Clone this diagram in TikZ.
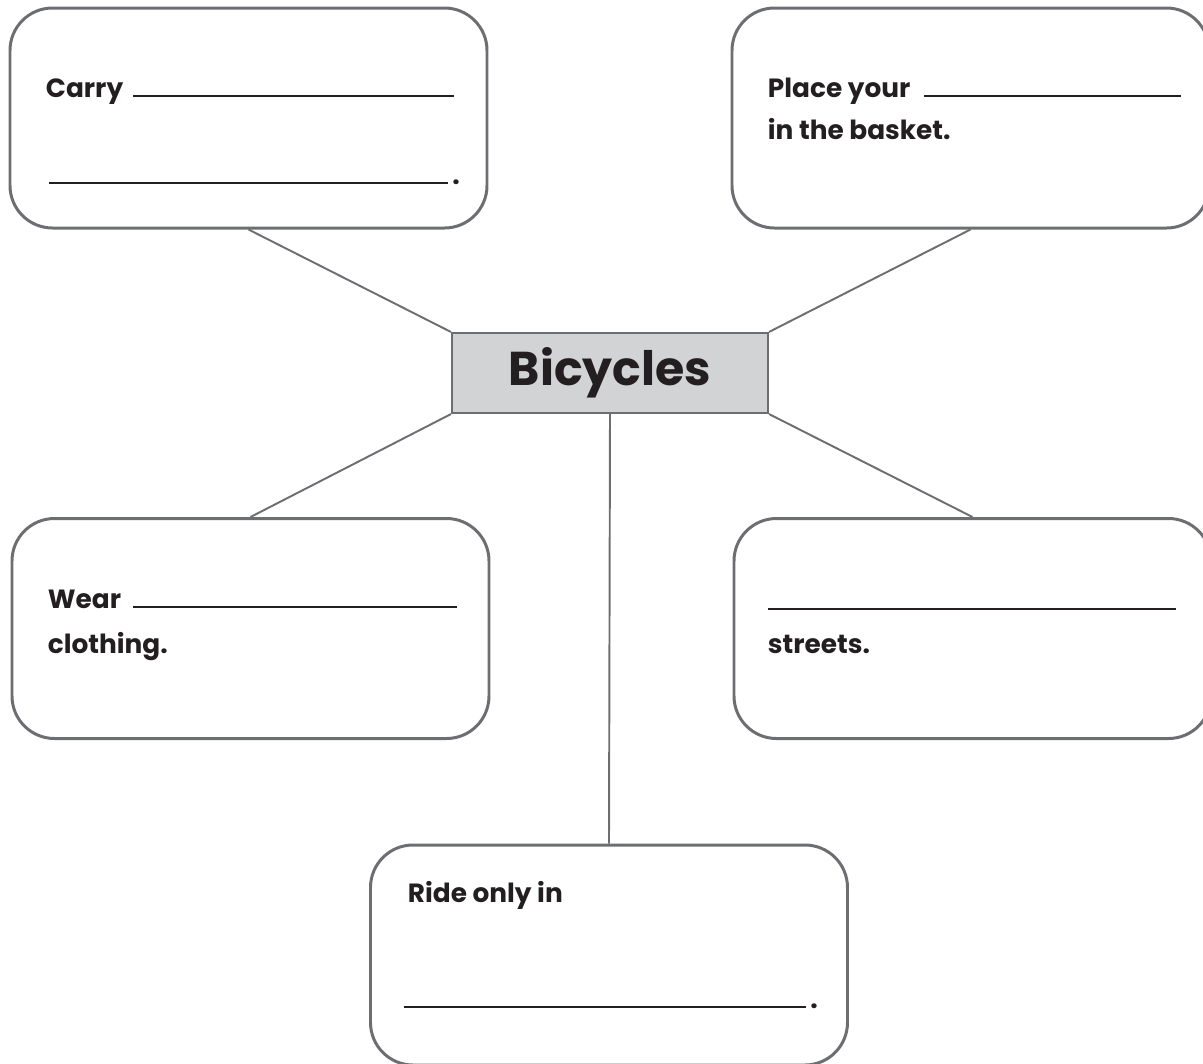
\documentclass[tikz,border=0pt]{standalone}
\usepackage{fontspec}
\setmainfont{Poppins}
\usetikzlibrary{positioning}

\definecolor{boxgray}{RGB}{109,110,113}
\definecolor{titlefill}{RGB}{209,211,212}
\definecolor{inkblack}{RGB}{35,31,32}

\begin{document}
\begin{tikzpicture}[line width=1.1pt, font=\fontsize{15}{19}\selectfont\bfseries]
\tikzset{
  bubble/.style={draw=boxgray, line width=1.7pt, rounded corners=0.85cm, minimum width=9.54cm, minimum height=4.4cm, inner sep=0pt},
  titlebox/.style={draw=boxgray, fill=titlefill, line width=1.2pt, minimum width=6.32cm, minimum height=1.6cm, inner sep=0pt, font=\fontsize{27}{32}\selectfont\bfseries, text=inkblack},
  fillin/.style={anchor=base west, inner sep=0pt, text=inkblack},
  spoke/.style={draw=boxgray, line width=1.1pt}
}
\useasboundingbox (0,0) rectangle (24.06,-21.26);

% boxes
\node[titlebox] (bike) at (12.2,-7.46) {Bicycles};
\node[bubble] (carry) at (4.97,-2.36) {};
\node[bubble] (place) at (19.41,-2.36) {};
\node[bubble] (wear) at (5.01,-12.57) {};
\node[bubble] (street) at (19.45,-12.57) {};
\node[bubble] (ride) at (12.18,-19.1) {};

% texts with blanks
\node[fillin] (carry1) at (0.9,-1.94) {\makebox[1.74cm][l]{Carry}\rule{6.42cm}{0.9pt}};
\node[fillin] (carry2) at (0.96,-3.68) {\rule{7.98cm}{0.9pt}\,.};
\node[fillin] (place1) at (15.34,-1.94) {\makebox[3.12cm][l]{Place your}\rule{5.14cm}{0.9pt}};
\node[fillin] (place2) at (15.34,-2.78) {in the basket.};
\node[fillin] (wear1) at (0.94,-12.16) {\makebox[1.7cm][l]{Wear}\rule{6.48cm}{0.9pt}};
\node[fillin] (wear2) at (0.94,-13.06) {clothing.};
\node[fillin] (street1) at (15.34,-12.2) {\rule{8.16cm}{0.9pt}};
\node[fillin] (street2) at (15.34,-13.06) {streets.};
\node[fillin] (ride1) at (8.14,-18.04) {Ride only in};
\node[fillin] (ride2) at (8.06,-20.16) {\rule{8.04cm}{0.9pt}\,.};

% spokes
\draw[spoke] (carry.south) -- (bike.north west);
\draw[spoke] (place.south) -- (bike.north east);
\draw[spoke] (bike.south west) -- (wear.north);
\draw[spoke] (bike.south east) -- (street.north);
\draw[spoke] (bike.south) -- (ride.north);
\end{tikzpicture}
\end{document}
